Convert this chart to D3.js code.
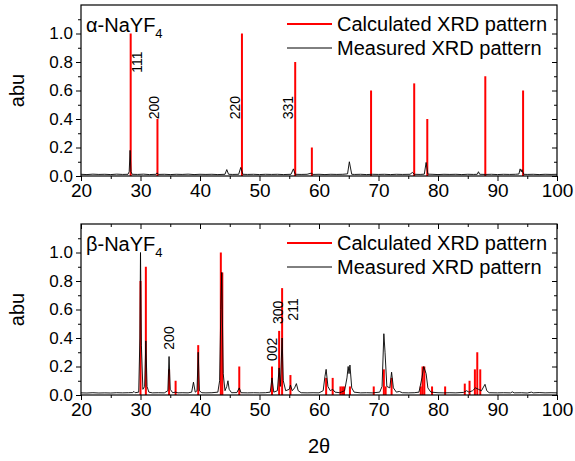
<!DOCTYPE html>
<html>
<head>
    <meta charset="UTF-8">
    <title>XRD NaYF4</title>
    <script src="https://d3js.org/d3.v7.min.js"></script>
    <style>
        body { margin: 0; background: #ffffff; }
        svg { font-family: Arial, "Liberation Sans", sans-serif; }
    </style>
</head>
<body>
    <svg id="chart"></svg>

    <script>
        // ---- data ----
        const xTicks = [20, 30, 40, 50, 60, 70, 80, 90, 100];
        const yTicks = [0.0, 0.2, 0.4, 0.6, 0.8, 1.0];

        // alpha phase: calculated lines [2theta, abu]
        const calcAlpha = [[28.35, 1.0], [32.85, 0.4], [47.05, 1.0], [56.0, 0.8], [58.8, 0.2],
            [68.75, 0.6], [76.0, 0.65], [78.2, 0.4], [87.95, 0.7], [94.3, 0.6]];
        // alpha phase: measured pattern
        const measAlpha = [[20, 0.012], [21, 0.010], [22, 0.013], [23, 0.011], [24, 0.012], [25, 0.010],
            [26, 0.013], [27, 0.011], [27.9, 0.012], [28.1, 0.03], [28.25, 0.18], [28.4, 0.03], [28.6, 0.012],
            [29.5, 0.011], [30.5, 0.013], [31.5, 0.010], [32.6, 0.012], [32.8, 0.022], [33.0, 0.011],
            [34, 0.012], [35, 0.010], [36, 0.012], [37, 0.011], [38, 0.013], [39, 0.010], [40, 0.012],
            [41, 0.011], [42, 0.012], [43, 0.010], [44.2, 0.012], [44.5, 0.045], [44.8, 0.012], [45.5, 0.011],
            [46.5, 0.012], [46.85, 0.06], [47.2, 0.012], [48, 0.011], [49, 0.012], [50, 0.010], [51, 0.012],
            [52, 0.011], [53, 0.012], [54, 0.010], [55.3, 0.012], [55.7, 0.05], [56.0, 0.012], [57, 0.011],
            [58, 0.012], [58.7, 0.02], [59, 0.011], [60, 0.012], [61, 0.010], [62, 0.012], [63, 0.011],
            [64, 0.012], [64.8, 0.015], [65.1, 0.1], [65.5, 0.012], [66, 0.011], [67, 0.012], [68, 0.010],
            [69, 0.012], [70, 0.011], [71, 0.012], [72, 0.010], [73, 0.012], [74, 0.011], [75.3, 0.012],
            [75.7, 0.025], [76.0, 0.012], [77, 0.011], [77.7, 0.013], [78.0, 0.095], [78.3, 0.013], [79, 0.012],
            [80, 0.010], [81, 0.012], [82, 0.011], [83, 0.012], [84, 0.010], [85, 0.012], [86, 0.011],
            [86.6, 0.012], [86.8, 0.03], [87.0, 0.012], [88, 0.011], [89, 0.012], [90, 0.010], [91, 0.012],
            [92, 0.011], [93, 0.012], [93.6, 0.014], [93.8, 0.05], [94.0, 0.03], [94.1, 0.045], [94.4, 0.012],
            [95, 0.011], [96, 0.012], [97, 0.010], [98, 0.012], [99, 0.011], [100, 0.012]];
        // alpha phase: hkl labels [text, 2theta, abu at label centre]
        const hklAlpha = [["111", 29.5, 0.8], ["200", 32.3, 0.48], ["220", 45.9, 0.48], ["331", 54.8, 0.48]];

        // beta phase: calculated lines
        const calcBeta = [[30.0, 0.8], [30.9, 0.9], [34.8, 0.18], [35.9, 0.1], [39.7, 0.35],
            [43.5, 1.0], [43.75, 0.86], [46.6, 0.2], [52.1, 0.2], [53.3, 0.45], [53.8, 0.75],
            [55.2, 0.14], [61.2, 0.12], [62.3, 0.12], [63.6, 0.06], [63.9, 0.06], [64.2, 0.06],
            [65.2, 0.06], [69.2, 0.06], [70.9, 0.18], [71.2, 0.06], [72.2, 0.12], [77.1, 0.06],
            [77.4, 0.2], [77.7, 0.2], [79.0, 0.06], [81.2, 0.06], [84.5, 0.08], [85.3, 0.1],
            [86.2, 0.18], [86.6, 0.3], [87.1, 0.18]];
        // beta phase: measured pattern
        const measBeta = [[20, 0.015], [21, 0.014], [22, 0.016], [23, 0.014], [24, 0.015], [25, 0.014],
            [26, 0.016], [27, 0.015], [28, 0.016], [28.7, 0.017], [28.9, 0.025], [29.1, 0.016], [29.7, 0.02],
            [29.9, 0.4], [30.0, 1.0], [30.15, 0.35], [30.4, 0.04], [30.7, 0.06], [30.9, 0.38], [31.1, 0.06],
            [31.4, 0.02], [32, 0.015], [33, 0.016], [34, 0.015], [34.6, 0.03], [34.8, 0.27], [35.0, 0.04],
            [35.4, 0.016], [35.9, 0.02], [36.3, 0.015], [37, 0.016], [38, 0.015], [38.6, 0.02], [38.9, 0.09],
            [39.2, 0.02], [39.5, 0.03], [39.7, 0.3], [39.9, 0.03], [40.3, 0.016], [41, 0.015], [42, 0.016],
            [43.0, 0.02], [43.3, 0.1], [43.5, 0.6], [43.65, 0.86], [43.9, 0.15], [44.2, 0.03], [44.5, 0.06],
            [44.7, 0.1], [44.9, 0.04], [45.3, 0.016], [46.2, 0.017], [46.6, 0.05], [46.9, 0.016], [48, 0.015],
            [49, 0.016], [50, 0.015], [51, 0.016], [51.8, 0.02], [52.1, 0.12], [52.4, 0.02], [53.0, 0.03],
            [53.3, 0.19], [53.5, 0.06], [53.8, 0.4], [54.0, 0.1], [54.4, 0.03], [55.0, 0.04], [55.2, 0.07],
            [55.5, 0.03], [55.9, 0.05], [56.2, 0.08], [56.5, 0.03], [57, 0.016], [58, 0.015], [59, 0.016],
            [60, 0.015], [60.7, 0.03], [61.0, 0.13], [61.2, 0.18], [61.5, 0.06], [61.9, 0.03], [62.3, 0.04],
            [62.7, 0.02], [63.5, 0.016], [64.3, 0.03], [64.7, 0.12], [64.9, 0.2], [65.05, 0.15], [65.2, 0.21],
            [65.5, 0.05], [65.9, 0.02], [67, 0.015], [68, 0.016], [69, 0.015], [70.2, 0.02], [70.6, 0.06],
            [70.9, 0.43], [71.1, 0.3], [71.4, 0.06], [71.9, 0.05], [72.2, 0.16], [72.5, 0.05], [73.0, 0.02],
            [73.5, 0.025], [74, 0.016], [75, 0.015], [76, 0.016], [76.8, 0.02], [77.3, 0.12], [77.6, 0.2],
            [78.0, 0.15], [78.3, 0.05], [78.8, 0.02], [80, 0.016], [81, 0.015], [82, 0.016], [83, 0.015],
            [84.3, 0.018], [84.8, 0.03], [85.2, 0.02], [85.8, 0.03], [86.3, 0.05], [86.8, 0.04], [87.3, 0.03],
            [87.9, 0.075], [88.2, 0.03], [88.6, 0.016], [90, 0.015], [91, 0.016], [92.2, 0.015], [92.5, 0.022],
            [92.8, 0.015], [94, 0.016], [95, 0.014], [95.7, 0.02], [96, 0.015], [97, 0.017], [98, 0.015],
            [99, 0.016], [100, 0.015]];
        const hklBeta = [["200", 34.8, 0.4], ["002", 52.1, 0.32], ["300", 53.1, 0.58], ["211", 55.7, 0.6]];

        const panels = [
            { top: 5, bottom: 176, name: "α-NaYF", calc: calcAlpha, meas: measAlpha, hkl: hklAlpha, topTicks: false },
            { top: 224, bottom: 395, name: "β-NaYF", calc: calcBeta, meas: measBeta, hkl: hklBeta, topTicks: true }
        ];

        const W = 575, H = 461;
        const left = 81, right = 557;

        const svg = d3.select('#chart').attr('width', W).attr('height', H);

        const x = d3.scaleLinear().domain([20, 100]).range([left, right]);
        const xMinor = d3.range(25, 100, 10);
        const yMinor = d3.range(0.1, 1.2, 0.2);

        panels.forEach(p => {
            const y = d3.scaleLinear().domain([0, 1.2]).range([p.bottom, p.top]);
            const g = svg.append('g');

            // calculated pattern (red sticks)
            g.selectAll('.calc')
                .data(p.calc)
                .enter().append('line')
                .attr('x1', d => x(d[0])).attr('x2', d => x(d[0]))
                .attr('y1', y(0)).attr('y2', d => y(d[1]))
                .attr('stroke', '#ff0000')
                .attr('stroke-width', 2);

            // measured pattern
            g.append('path')
                .datum(p.meas)
                .attr('d', d3.line().x(d => x(d[0])).y(d => y(d[1])))
                .attr('fill', 'none')
                .attr('stroke', '#000')
                .attr('stroke-width', 0.9);

            // frame
            g.append('rect')
                .attr('x', left).attr('y', p.top)
                .attr('width', right - left).attr('height', p.bottom - p.top)
                .attr('fill', 'none').attr('stroke', '#000').attr('stroke-width', 1.2);

            // bottom axis
            const xb = g.append('g')
                .attr('transform', `translate(0,${p.bottom})`)
                .call(d3.axisBottom(x).tickValues(xTicks).tickSize(5).tickPadding(3).tickFormat(d3.format('d')));
            g.append('g')
                .attr('transform', `translate(0,${p.bottom})`)
                .call(d3.axisBottom(x).tickValues(xMinor).tickSize(3).tickFormat(''));

            // left axis
            g.append('g')
                .attr('transform', `translate(${left},0)`)
                .call(d3.axisLeft(y).tickValues(yTicks).tickSize(5).tickPadding(3).tickFormat(d3.format('.1f')));
            g.append('g')
                .attr('transform', `translate(${left},0)`)
                .call(d3.axisLeft(y).tickValues(yMinor).tickSize(3).tickFormat(''));

            // right axis, ticks inward
            g.append('g')
                .attr('transform', `translate(${right},0)`)
                .call(d3.axisLeft(y).tickValues(yTicks).tickSize(5).tickFormat(''));
            g.append('g')
                .attr('transform', `translate(${right},0)`)
                .call(d3.axisLeft(y).tickValues(yMinor).tickSize(3).tickFormat(''));

            if (p.topTicks) {
                g.append('g')
                    .attr('transform', `translate(0,${p.top})`)
                    .call(d3.axisBottom(x).tickValues(xTicks).tickSize(5).tickFormat(''));
                g.append('g')
                    .attr('transform', `translate(0,${p.top})`)
                    .call(d3.axisBottom(x).tickValues(xMinor).tickSize(3).tickFormat(''));
            }

            g.selectAll('.domain').attr('stroke', 'none');
            g.selectAll('.tick line').attr('stroke', '#000').attr('stroke-width', 1);
            g.selectAll('.tick text').attr('fill', '#000').style('font-family', 'Arial, "Liberation Sans", sans-serif');
            xb.selectAll('.tick text').style('font-size', '19px');
            g.selectAll('.tick text').filter(function () { return this.textContent.includes('.'); }).style('font-size', '17px');

            // hkl labels
            g.selectAll('.hkl')
                .data(p.hkl)
                .enter().append('text')
                .attr('transform', d => `translate(${x(d[1])},${y(d[2])}) rotate(-90)`)
                .attr('text-anchor', 'middle')
                .attr('dy', '0.35em')
                .style('font-size', '14px')
                .text(d => d[0]);

            // phase name with subscript
            const t = g.append('text')
                .attr('x', left + 5).attr('y', p.top + 27)
                .style('font-size', '20px')
                .text(p.name);
            t.append('tspan').attr('dy', 6).style('font-size', '13px').text('4');

            // legend
            const lx = 287;
            [['#ff0000', 2, 'Calculated XRD pattern', 19], ['#000', 1, 'Measured XRD pattern', 43]].forEach(l => {
                g.append('line')
                    .attr('x1', lx).attr('x2', lx + 45)
                    .attr('y1', p.top + l[3]).attr('y2', p.top + l[3])
                    .attr('stroke', l[0]).attr('stroke-width', l[1]);
                g.append('text')
                    .attr('x', lx + 50).attr('y', p.top + l[3])
                    .attr('dy', '0.35em')
                    .style('font-size', '20px')
                    .text(l[2]);
            });

            // y axis title
            g.append('text')
                .attr('transform', `translate(24,${(p.top + p.bottom) / 2}) rotate(-90)`)
                .attr('text-anchor', 'middle')
                .style('font-size', '20px')
                .text('abu');
        });

        // x axis title
        svg.append('text')
            .attr('x', (left + right) / 2).attr('y', 453)
            .attr('text-anchor', 'middle')
            .style('font-size', '20px')
            .text('2θ');
    </script>
</body>
</html>
